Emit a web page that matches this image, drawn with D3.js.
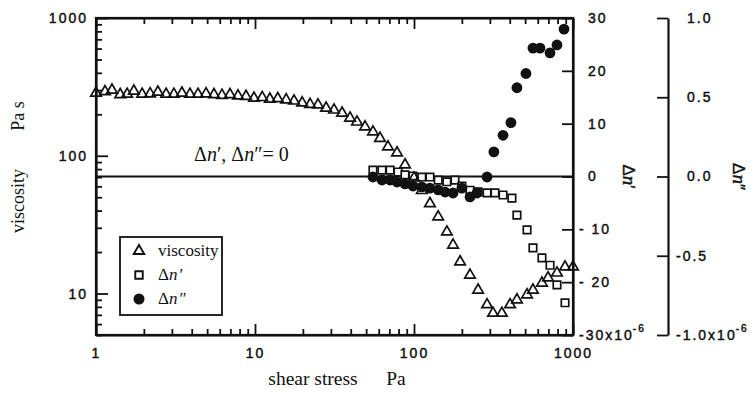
<!DOCTYPE html>
<html><head><meta charset="utf-8">
<script src="https://cdn.jsdelivr.net/npm/d3@7"></script>
<style>
body{margin:0;background:#fff;}
svg{display:block;}
.tick text{font-family:"Liberation Sans",Arial,sans-serif;font-size:14px;letter-spacing:2px;fill:#111;stroke:#111;stroke-width:0.45px;}
</style></head>
<body><svg id="c" width="754" height="393"></svg>
<script>
// ---- data ----
const viscStress = [1.0,1.14,1.26,1.42,1.57,1.73,1.95,2.19,2.45,2.76,3.09,3.47,3.90,4.38,4.92,5.52,6.20,6.96,7.82,8.78,9.86,11.1,12.4,13.9,15.7,17.6,19.8,22.2,24.9,28.0,31.4,35.3,39.6,43.8,49.2,55.2,61.1,68.6,78.2,87.8,100,112,126,142,161,176,195,225,253,288,314,357,402,444,514,560,638,697,793,891,1000];
const viscValues = [285,292,300,278,280,295,280,282,290,280,280,285,280,280,282,278,275,278,272,270,262,265,258,260,255,250,242,236,234,222,215,204,188,176,162,149,134,116,105,86,69,56,45,36,28,22.5,17,13.6,10.6,8.3,7.2,7.2,8.3,9.0,9.8,10.6,11.9,13.0,14.1,15.6,15.6];
const dn1Stress = [55.2,62.9,70.7,79.3,87.8,98.6,112,126,142,161,181,200,225,253,288,323,363,413,444,514,560,638,717,793,891];
const dn1Values = [1.2,1.2,1.2,0.85,0.3,0.1,-0.1,-0.1,-0.7,-1.0,-0.7,-1.8,-2.6,-2.9,-3.1,-3.1,-3.5,-4.1,-7.3,-10.1,-13.5,-15.4,-16.8,-20.5,-23.9];
const dn2Stress = [55.2,62.9,70.7,78.2,87.8,98.6,112,126,142,157,176,200,225,249,288,318,363,407,444,506,560,620,717,793,878];
const dn2Values = [-0.003,-0.022,-0.022,-0.035,-0.047,-0.06,-0.066,-0.073,-0.085,-0.098,-0.104,-0.073,-0.129,-0.104,-0.003,0.155,0.26,0.34,0.56,0.65,0.81,0.81,0.78,0.83,0.93];
const xMajor = [1,10,100,1000];
const yMajor = [10,100,1000];
const dn1Ticks = [30,20,10,0,-10,-20,-30];
const dn2Ticks = [1.0,0.5,0.0,-0.5,-1.0];

// ---- layout ----
const L=96, R=573, T=18, B=335, R2=668;
const svg = d3.select("#c");
const x = d3.scaleLog().domain([1,1000]).range([L,R]);
const yV = d3.scaleLog().domain([5,1000]).range([B,T]);
const yN1 = d3.scaleLinear().domain([-30,30]).range([B,T]);
const yN2 = d3.scaleLinear().domain([-1,1]).range([B,T]);
const ink = "#111";

function logTicks(lo,hi){const a=[];for(let e=0;e<4;e++){for(let m=1;m<10;m++){const v=m*Math.pow(10,e);if(v>=lo-1e-9&&v<=hi+1e-9)a.push(v);}}return a;}
const xt = logTicks(1,1000), yt = logTicks(5,1000);
const isMaj = v => Math.abs(Math.log10(v)-Math.round(Math.log10(v)))<1e-6;

// bottom axis
const gb = svg.append("g").attr("transform",`translate(0,${B})`)
 .call(d3.axisBottom(x).tickValues(xt).tickFormat(d=>isMaj(d)?String(d):"").tickSizeOuter(0).tickSizeInner(-10).tickPadding(10));
gb.selectAll(".tick line").attr("y2",d=>isMaj(d)?-11:-6);
// top axis
const gt = svg.append("g").attr("transform",`translate(0,${T})`)
 .call(d3.axisTop(x).tickValues(xt).tickFormat("").tickSizeOuter(0).tickSizeInner(-10));
gt.selectAll(".tick line").attr("y2",d=>isMaj(d)?11:6);
// left axis
const gl = svg.append("g").attr("transform",`translate(${L},0)`)
 .call(d3.axisLeft(yV).tickValues(yt).tickFormat(d=>isMaj(d)?String(d):"").tickSizeOuter(0).tickSizeInner(-11).tickPadding(10));
gl.selectAll(".tick line").attr("x2",d=>isMaj(d)?12:6);
// right axis (Δn')
const gr = svg.append("g").attr("transform",`translate(${R},0)`)
 .call(d3.axisRight(yN1).tickValues(dn1Ticks).tickFormat(d=>d===-30?"":(d<0?"- "+Math.abs(d):String(d))).tickSizeOuter(0).tickSizeInner(-11).tickPadding(14));
gr.selectAll(".tick text").attr("x",d=>d<0?6:15);
// second right axis (Δn'')
const gr2 = svg.append("g").attr("transform",`translate(${R2},0)`)
 .call(d3.axisRight(yN2).tickValues(dn2Ticks).tickFormat(d=>d===-1?"":(d<0?"-"+Math.abs(d).toFixed(1):d.toFixed(1))).tickSizeOuter(0).tickSizeInner(-11).tickPadding(18));
gr2.selectAll(".tick text").attr("x",d=>d<0?8:19);

svg.selectAll(".domain").attr("stroke",ink).attr("stroke-width",2.2);
svg.selectAll(".tick line").attr("stroke",ink).attr("stroke-width",1.8);
gb.selectAll(".tick text").attr("dy","0.9em");
gl.selectAll(".tick text").attr("dx","2px");

// -30x10^-6 and -1.0x10^-6 labels
function expLabel(xp,yp,base){
  const t=svg.append("text").attr("x",xp).attr("y",yp).attr("dy","0.35em")
   .attr("font-family","Liberation Sans, Arial, sans-serif").attr("font-size",14).attr("letter-spacing","2px")
   .attr("fill",ink).attr("stroke",ink).attr("stroke-width",0.45);
  t.append("tspan").text(base);
  t.append("tspan").attr("font-size",10).attr("dy","-0.75em").attr("dx","-1px").text("-6");
}
expLabel(R+6,yN1(-30),"-30x10");
expLabel(R2+8,yN2(-1),"-1.0x10");

// frame
svg.append("rect").attr("x",L).attr("y",T).attr("width",R-L).attr("height",B-T).attr("fill","none").attr("stroke",ink).attr("stroke-width",2.2);

// zero line
svg.append("line").attr("x1",L).attr("x2",R).attr("y1",yN1(0)).attr("y2",yN1(0)).attr("stroke",ink).attr("stroke-width",1.8);

// axis titles
const serif="Liberation Serif, 'Times New Roman', serif";
svg.append("text").attr("transform","translate(24,201) rotate(-90)").attr("text-anchor","middle")
 .attr("font-family",serif).attr("font-size",18).attr("fill",ink).text("viscosity");
svg.append("text").attr("transform","translate(24,116) rotate(-90)").attr("text-anchor","middle")
 .attr("font-family",serif).attr("font-size",18).attr("fill",ink).text("Pa s");
svg.append("text").attr("x",313).attr("y",385).attr("text-anchor","middle")
 .attr("font-family",serif).attr("font-size",19.5).attr("fill",ink).text("shear stress");
svg.append("text").attr("x",396).attr("y",385).attr("text-anchor","middle")
 .attr("font-family",serif).attr("font-size",19.5).attr("fill",ink).text("Pa");

function dnLabel(xp,primes){
  const t=svg.append("text").attr("transform",`translate(${xp},${yN1(0)}) rotate(90)`).attr("text-anchor","middle")
   .attr("font-family","Liberation Sans, Arial, sans-serif").attr("font-size",17).attr("fill",ink).attr("stroke",ink).attr("stroke-width",0.4);
  t.append("tspan").text("Δ");
  t.append("tspan").attr("font-style","italic").attr("font-family",serif).attr("font-size",19).text("n");
  t.append("tspan").text(primes);
}
dnLabel(623,"′");
dnLabel(733,"″");

// annotation
const an = svg.append("text").attr("x",194).attr("y",161).attr("font-family",serif).attr("font-size",20).attr("fill",ink);
an.append("tspan").text("Δ");
an.append("tspan").attr("font-style","italic").text("n");
an.append("tspan").text("′, Δ");
an.append("tspan").attr("font-style","italic").text("n");
an.append("tspan").text("″= 0");

// markers
const tri = d3.symbol().type(d3.symbolTriangle).size(48);
const sq = d3.symbol().type(d3.symbolSquare).size(56);
const visc = viscStress.map((s,i)=>({s,v:viscValues[i]}));
const dn1 = dn1Stress.map((s,i)=>({s,v:dn1Values[i]}));
const dn2 = dn2Stress.map((s,i)=>({s,v:dn2Values[i]}));

svg.append("g").selectAll("path").data(dn1).join("path")
 .attr("d",sq).attr("transform",d=>`translate(${x(d.s)},${yN1(d.v)})`)
 .attr("fill","#fff").attr("stroke",ink).attr("stroke-width",1.7);
svg.append("g").selectAll("circle").data(dn2).join("circle")
 .attr("cx",d=>x(d.s)).attr("cy",d=>yN2(d.v)).attr("r",5.4).attr("fill",ink);
svg.append("g").selectAll("path").data(visc).join("path")
 .attr("d",tri).attr("transform",d=>`translate(${x(d.s)},${yV(d.v)})`)
 .attr("fill","none").attr("stroke",ink).attr("stroke-width",1.7);

// legend
const lg = svg.append("g");
lg.append("rect").attr("x",120).attr("y",237).attr("width",102).attr("height",78).attr("fill","#fff").attr("stroke",ink).attr("stroke-width",1.8);
const rows=[251,275,299];
lg.append("path").attr("d",tri).attr("transform",`translate(139,${rows[0]})`).attr("fill","none").attr("stroke",ink).attr("stroke-width",1.9);
lg.append("path").attr("d",sq).attr("transform",`translate(139,${rows[1]})`).attr("fill","none").attr("stroke",ink).attr("stroke-width",1.9);
lg.append("circle").attr("cx",139).attr("cy",rows[2]).attr("r",5.5).attr("fill",ink);
lg.append("text").attr("x",158).attr("y",rows[0]+5).attr("font-family",serif).attr("font-size",17).attr("fill",ink).text("viscosity");
function legDn(yp,primes){
  const t=lg.append("text").attr("x",158).attr("y",yp+5).attr("font-family",serif).attr("font-size",17).attr("fill",ink);
  t.append("tspan").text("Δ");
  t.append("tspan").attr("font-style","italic").text("n");
  t.append("tspan").attr("dx",2).text(primes);
}
legDn(rows[1],"′");
legDn(rows[2],"″");
</script></body></html>
